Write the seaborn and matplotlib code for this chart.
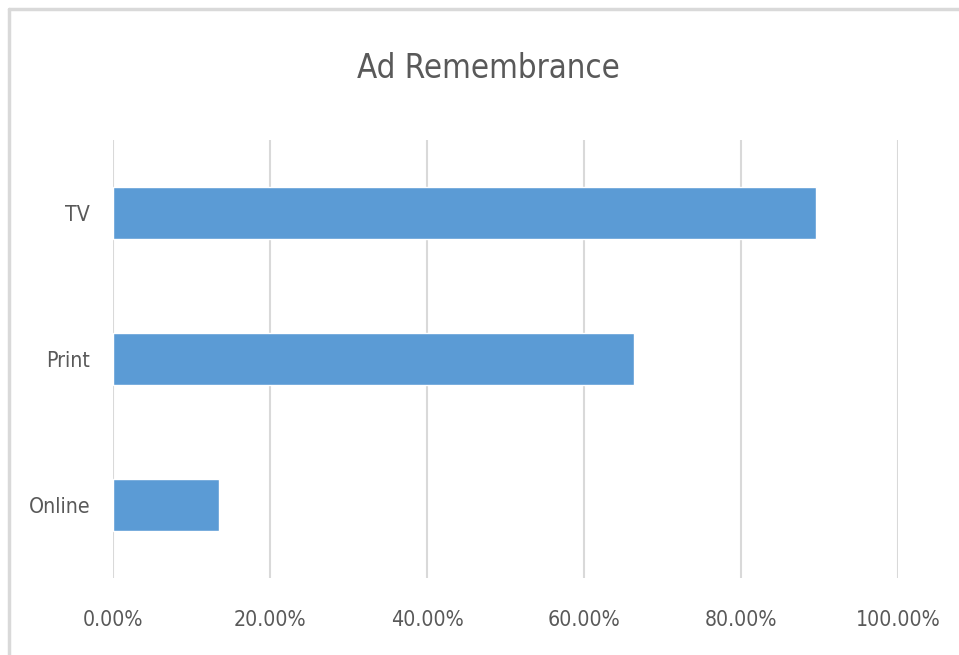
import matplotlib
matplotlib.use("Agg")
import matplotlib.pyplot as plt
import matplotlib.ticker as mticker
from matplotlib import font_manager
import seaborn as sns
import pandas as pd

categories = ["TV", "Print", "Online"]
values = [0.896, 0.664, 0.135]
xticks = [0.0, 0.2, 0.4, 0.6, 0.8, 1.0]
title = "Ad Remembrance"

sns.set_theme(style="white")

# prefer a condensed/narrow sans face if one is installed
stretch = "normal"
fam = "Open Sans"
cond = [f for f in font_manager.fontManager.ttflist
        if ("Narrow" in f.name or "Condensed" in f.name
            or str(f.stretch) in ("condensed", "semi-condensed", "extra-condensed", "ultra-condensed")
            or (isinstance(f.stretch, int) and f.stretch < 500))
        and f.weight in (400, "normal", "regular") and f.style == "normal"]
if cond:
    fam = cond[0].name
    stretch = cond[0].stretch
plt.rcParams["font.family"] = [fam, "DejaVu Sans"]
plt.rcParams["font.stretch"] = stretch

df = pd.DataFrame({"cat": categories, "val": values})
fig = plt.figure(figsize=(9.59, 6.55), dpi=100)
ax = fig.add_axes([113/959, 77/655, 785/959, 438/655])
sns.barplot(data=df, x="val", y="cat", orient="h", color="#5B9BD5",
            saturation=1, width=0.35, ax=ax)
ax.set_xlim(0, 1.0)
ax.set_xticks(xticks)
ax.xaxis.set_major_formatter(mticker.FuncFormatter(lambda v, p: f"{v*100:.2f}%"))
ax.grid(axis="x", color="#D9D9D9", linewidth=1.5)
ax.set_axisbelow(True)
for s in ax.spines.values():
    s.set_visible(False)
ax.set_xlabel("")
ax.set_ylabel("")

# size fonts so text widths match the reference
renderer = fig.canvas.get_renderer()
def fit(s, target, base=20):
    t = fig.text(0, 0, s, fontsize=base)
    w = t.get_window_extent(renderer).width
    t.remove()
    return base * target / w

tick_fs = min(fit("100.00%", 85), 19)
ylab_fs = min(fit("Online", 62), 19)
ttl_fs = min(fit(title, 263), 26)
ax.tick_params(axis="both", length=0, colors="#595959")
ax.tick_params(axis="x", labelsize=tick_fs, pad=31 - tick_fs * 0.5)
ax.tick_params(axis="y", labelsize=ylab_fs, pad=16.5)
fig.text(488/959, 1 - 68/655, title, ha="center", va="center",
         fontsize=ttl_fs, color="#595959")
# chart border (top/left visible)
fig.add_artist(plt.Line2D([9/959, 9/959], [0, 1 - 9/655], transform=fig.transFigure,
                          color="#D9D9D9", linewidth=2.5))
fig.add_artist(plt.Line2D([9/959, 1], [1 - 9/655, 1 - 9/655], transform=fig.transFigure,
                          color="#D9D9D9", linewidth=2.5))
fig.savefig("out.png", dpi=100)
